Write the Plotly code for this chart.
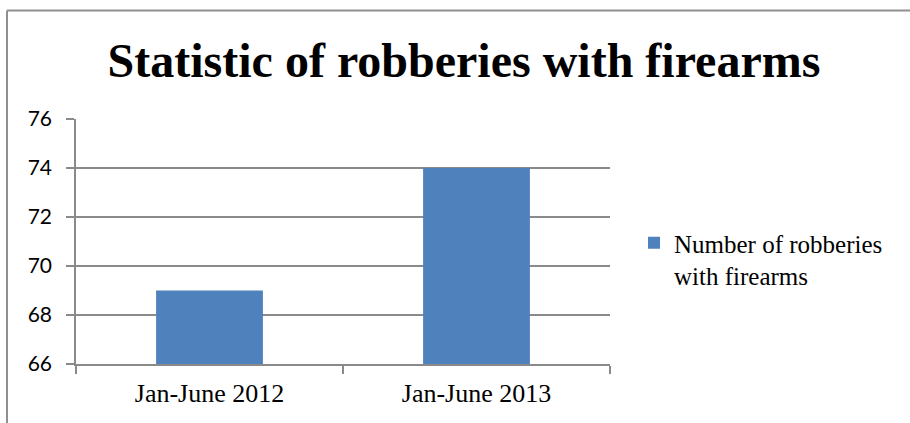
import plotly.graph_objects as go

categories = ["Jan-June 2012", "Jan-June 2013"]
values = [69, 74]
series_name = "Number of robberies<br>with firearms"
title_text = "Statistic of robberies with firearms"
y_ticks = [66, 68, 70, 72, 74, 76]

W, H = 910, 423
L, R, T, B = 76, 300, 119, 59
pw, ph = W - L - R, H - T - B

def px_x(x):
    return (x - L) / pw

def px_y(y):
    return (H - B - y) / ph

fig = go.Figure()
fig.add_trace(go.Bar(
    x=categories, y=values, name=series_name,
    marker=dict(color="#4F81BD", line=dict(width=0)),
    width=0.4, showlegend=True,
))

grid = "#8a8a8a"
fig.update_layout(
    width=W, height=H,
    margin=dict(l=L, r=R, t=T, b=B),
    paper_bgcolor="white", plot_bgcolor="white",
    title=dict(text="<b>" + title_text + "</b>", xref="container", x=464 / W, xanchor="center",
               yref="container", y=1 - 60 / H, yanchor="middle",
               font=dict(family="Liberation Serif", size=48, color="black")),
    showlegend=True,
    legend=dict(x=px_x(634), y=px_y(220), xanchor="left", yanchor="top",
                valign="top",
                font=dict(family="Liberation Serif", size=25, color="black"),
                bgcolor="rgba(0,0,0,0)", itemwidth=30, tracegroupgap=0),
    bargap=0.6,
)
fig.update_xaxes(
    showline=True, linecolor=grid, linewidth=1.5,
    ticks="outside", tickson="boundaries", ticklen=8, tickcolor=grid, tickwidth=1.5,
    tickfont=dict(family="Liberation Serif", size=26, color="black"),
    ticklabelstandoff=5,
    showgrid=False,
)
fig.update_yaxes(
    range=[66, 76], tickvals=y_ticks,
    showline=True, linecolor=grid, linewidth=1.5,
    ticks="outside", ticklen=8, tickcolor=grid, tickwidth=1.5,
    showgrid=True, gridcolor=grid, gridwidth=1.5,
    tickfont=dict(family="Lato", size=21, color="black"),
    ticklabelstandoff=10,
)
# outer chart border (left and top edges visible)
fig.add_shape(type="line", xref="paper", yref="paper",
              x0=px_x(7), x1=px_x(7), y0=px_y(H + 5), y1=px_y(10.5),
              line=dict(color="#8f8f8f", width=2))
fig.add_shape(type="line", xref="paper", yref="paper",
              x0=px_x(7), x1=px_x(W + 5), y0=px_y(10.5), y1=px_y(10.5),
              line=dict(color="#8f8f8f", width=2))

fig.write_html("out.html")
